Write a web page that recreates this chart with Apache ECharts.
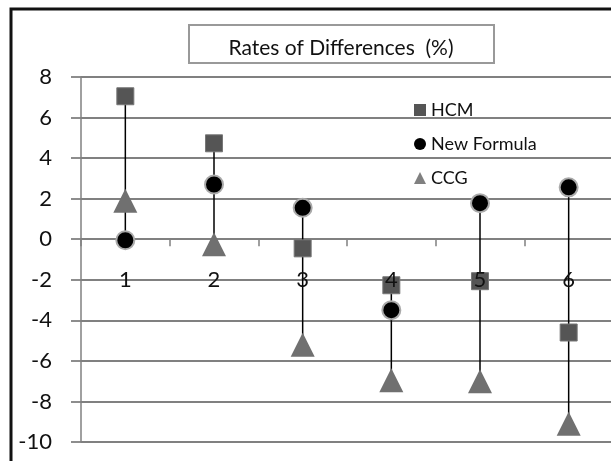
<!DOCTYPE html>
<html><head><meta charset="utf-8">
<script src="https://cdn.jsdelivr.net/npm/echarts@6/dist/echarts.min.js"></script>
<style>html,body{margin:0;padding:0;background:#fff}#c{width:611px;height:461px}</style>
</head><body><div id="c"></div>
<script>
const categories = ['1','2','3','4','5','6'];
const hcm = [7.05, 4.73, -0.45, -2.27, -2.07, -4.6];
const newFormula = [-0.05, 2.7, 1.55, -3.5, 1.78, 2.56];
const ccg = [1.9, -0.25, -5.2, -6.95, -7.0, -9.1];
const yTicks = [-10, -8, -6, -4, -2, 0, 2, 4, 6, 8];
const yMin = -10, yMax = 8;

const ranges = hcm.map((v, i) => {
  const vals = [hcm[i], newFormula[i], ccg[i]];
  return [i, Math.max(...vals), Math.min(...vals)];
});

const gridTop = 77, gridBottom = 19, H = 461;
const plotH = H - gridTop - gridBottom;
const zeroOffset = -(0 - yMin) / (yMax - yMin) * plotH;

const font = 'Lato, "Open Sans", sans-serif';
const chart = echarts.init(document.getElementById('c'), null, {renderer: 'canvas'});
chart.setOption({
  animation: false,
  backgroundColor: '#fff',
  graphic: [
    {type: 'rect', shape: {x: 11, y: 9, width: 700, height: 600}, style: {fill: 'none', stroke: '#111', lineWidth: 3}, z: 0},
    {type: 'rect', shape: {x: 189, y: 25, width: 305, height: 38}, style: {fill: '#fff', stroke: '#999', lineWidth: 2}, z: 1},
    {type: 'text', x: 341, y: 48, style: {text: 'Rates of Differences  (%)', font: '21px ' + font, fill: '#111', textAlign: 'center', textVerticalAlign: 'middle'}, z: 2}
  ],
  grid: {left: 81, right: -2, top: gridTop, bottom: gridBottom, containLabel: false, outerBoundsMode: 'none'},
  legend: {
    orient: 'vertical', left: 409, top: 96, itemGap: 16, itemWidth: 12, itemHeight: 12,
    textStyle: {fontFamily: font, fontSize: 18, color: '#111'},
    data: [
      {name: 'HCM', icon: 'rect', itemStyle: {color: '#555', borderWidth: 0}},
      {name: 'New Formula', icon: 'circle', itemStyle: {color: '#000', borderWidth: 0}},
      {name: 'CCG', icon: 'triangle', itemStyle: {color: '#808080', borderWidth: 0}}
    ]
  },
  xAxis: {
    type: 'category', data: categories, boundaryGap: true, position: 'bottom', offset: zeroOffset, z: 10,
    axisLine: {show: false, onZero: false},
    axisTick: {show: true, length: 7, inside: false, lineStyle: {color: '#808080', width: 1.5}},
    axisLabel: {show: true, margin: 30, fontFamily: font, fontSize: 22, color: '#111', interval: 0},
    splitLine: {show: false}
  },
  yAxis: {
    type: 'value', min: yMin, max: yMax, interval: 2,
    axisLine: {show: true, lineStyle: {color: '#808080', width: 1.5}},
    axisTick: {show: true, length: 10, lineStyle: {color: '#808080', width: 1.8}},
    axisLabel: {margin: 29, fontFamily: font, fontSize: 22, color: '#111',
      formatter: v => yTicks.includes(v) ? String(v) : ''},
    splitLine: {show: true, lineStyle: {color: '#808080', width: 1.8}}
  },
  series: [
    {
      type: 'custom', name: 'range', silent: true, z: 1,
      data: ranges,
      renderItem: (params, api) => {
        const p1 = api.coord([api.value(0), api.value(1)]);
        const p2 = api.coord([api.value(0), api.value(2)]);
        return {type: 'line', shape: {x1: p1[0], y1: p1[1], x2: p2[0], y2: p2[1]}, style: {stroke: '#000', lineWidth: 1.5}};
      }
    },
    {type: 'scatter', name: 'HCM', data: hcm, symbol: 'rect', symbolSize: 17, z: 3,
      itemStyle: {color: '#555', borderColor: '#777', borderWidth: 1, opacity: 1}},
    {type: 'scatter', name: 'New Formula', data: newFormula, symbol: 'circle', symbolSize: 18, z: 4,
      itemStyle: {color: '#000', borderColor: '#aaa', borderWidth: 2, opacity: 1}},
    {type: 'scatter', name: 'CCG', data: ccg, symbol: 'triangle', symbolSize: [24, 24], z: 3,
      itemStyle: {color: '#707070', opacity: 1}}
  ]
});
</script></body></html>
